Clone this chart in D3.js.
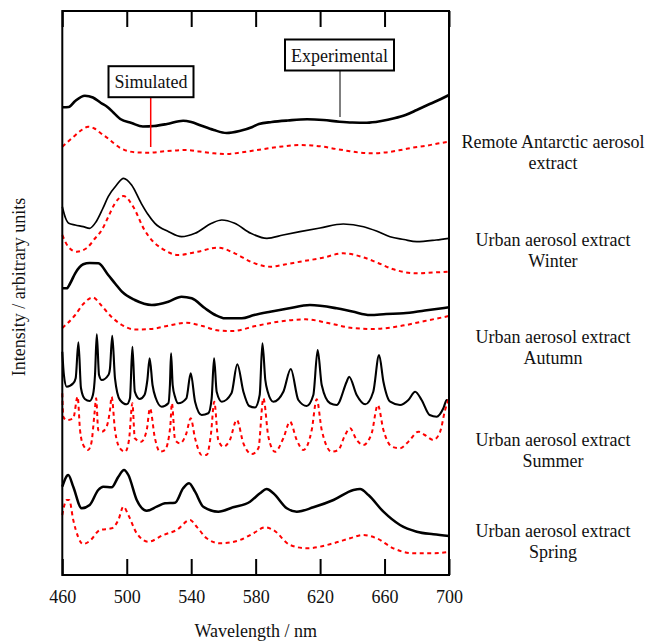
<!DOCTYPE html>
<html>
<head>
<meta charset="utf-8">
<script src="https://cdn.jsdelivr.net/npm/d3@7"></script>
<style>
  body { margin: 0; background: #fff; }
  text { font-family: "Liberation Serif", "Times New Roman", serif; fill: #111; }
</style>
</head>
<body>
<div id="chart"></div>
<script>
// Spectra: [wavelength nm, intensity (arbitrary units, offset per sample)]
const xTicks = [460, 500, 540, 580, 620, 660, 700];

const antarcticExp = [[460,467.7],[464,468],[468,474],[474,479.3],[479,477.5],[484,472],[488,468],[492,462],[496,456],[503,452],[510,448.5],[517,449],[525,451],[535,454.3],[540,453],[546,449.5],[554,445],[562,442],[570,444],[578,448],[582,451],[590,453],[600,454.5],[612,455.7],[622,455],[632,453.3],[640,452.5],[649,452.3],[658,454],[666,456.7],[673,460],[680,465],[688,471],[695,476],[700,480]];
const antarcticSim = [[460,428.3],[467,438.3],[472,445],[476,448.3],[480,446.5],[483.5,442.3],[488,437],[492,431.7],[496,427],[500,424.3],[507,422.5],[514.5,422.3],[522,423.5],[529,424.3],[537,425],[545,423.5],[554,421.7],[562,421],[571,422.5],[581,425],[594,428],[607.5,430],[615,429.5],[622,428.3],[630,426],[636.5,424.3],[644,422.5],[651,421.7],[660,422.5],[670,425],[678,427.5],[686,429.3],[693,431.5],[700,433.3]];

const winterExp = [[460,368.3],[462,357],[464,351.7],[468,350],[473,348.3],[477,346.7],[481,353.3],[485,366],[488.5,378.3],[493.7,390],[498,396.7],[503,390],[509,371.7],[513,361],[517.5,351.7],[526,343.3],[534,338.3],[542.4,341.7],[552.7,351.7],[559,355],[567,351.7],[577,341.7],[587,336.7],[597,340],[607.5,343.3],[620,347],[634.4,351],[647,348.3],[655,344],[663.4,338.3],[672,335.5],[680,333.3],[692,335],[700,336.7]];
const winterSim = [[460,340],[463.7,328.3],[469,323.3],[475,326.7],[480,336],[484.5,345],[488.5,358],[492.7,371.7],[498,379],[504,368.3],[511,345],[516,334],[521.7,326.7],[532,320],[544,323.3],[556.8,327.3],[567,321.7],[578,312.5],[589,308.3],[598,310.5],[607.5,313.3],[621,317],[634.4,321.7],[646.8,317.7],[656,312],[665.5,305.7],[680,301.7],[690,302.5],[700,303.3]];

const autumnExp = [[460,286.7],[462.7,286.7],[465,292],[468,301.7],[473,310.7],[477,312],[482.4,311.7],[488.5,300],[493,291],[497,283.3],[505,275],[515.5,270],[525.8,273.3],[534,278.3],[540.3,276.7],[548.6,266.7],[555,260],[561,256.7],[571.4,256.7],[579,260],[589,263.3],[600,266.5],[613.7,270],[630.3,266.7],[640,263.5],[651,260],[661,261],[671.7,261.7],[685,264.5],[700,267.7]];
const autumnSim = [[460,247],[468,260],[473,271],[479,277.5],[484,270],[490,259],[497,250],[505,245.5],[515,246],[525,249],[537,252.3],[547,249],[557,244.5],[566,244],[580,249],[595,253.5],[611,255.7],[625,252],[640,247],[653,246],[670,249],[685,254],[700,259]];

const summerExp = [[460,223.3],[461,200],[462.7,188.3],[466.8,191.7],[468.3,196.7],[470,232.7],[471.6,186.7],[474,176],[477,174],[479,180],[480.3,200],[481.4,240.7],[482.8,200],[484.5,195],[488.6,200],[489.6,206.7],[491,239.3],[492.7,196.7],[495.8,175],[500,170.7],[502,176.7],[503.5,228.3],[505,183.3],[508,176],[511,180],[512.8,195],[514.2,216.7],[516,190],[518,177],[521.7,168.3],[525.8,171.7],[526.8,190],[527.5,221.7],[528.5,190],[530,178],[532,171.7],[537,176.7],[539.7,201.7],[542.4,173.3],[546.5,160],[550.6,161.7],[552.7,176.7],[554.2,216.7],[555.8,183.3],[559,173.3],[565,181.7],[568.6,210.7],[572.4,183.3],[576,169],[579.6,167.5],[582.5,180],[584.2,231.7],[586,195],[587.5,183.3],[591,173.3],[597.2,183.3],[601.8,206],[606.5,175],[611.7,169],[615.8,180],[618.5,225],[621,190],[626.2,171.7],[630.3,170],[636.5,193.3],[638,198.3],[642.7,180],[648,170.7],[653,183.3],[656.6,220],[659.3,193.3],[663.5,173.3],[669.6,170],[674.8,175],[679,183.3],[683,175],[688,160],[692.4,158.3],[696.5,166.7],[698.6,175],[700,173.3]];
const summerSim = [[460,181.7],[460.6,158.3],[462.7,155],[466.8,156.7],[469.5,178.3],[471,145],[473,130],[476,125],[478,131.7],[480,161.7],[481,176.7],[482.3,145],[484.5,143.3],[487.5,148.3],[489.6,165],[490.6,178.3],[492.7,145],[495.8,126.7],[499,123.3],[501.4,135],[503.5,171.7],[505,136.7],[509,133.3],[512.4,145],[514.4,166.7],[517.5,136.7],[520.6,123.3],[523.7,125],[527,148.3],[528,171.7],[530,135],[533,131.7],[537,141.7],[539.7,156.7],[542.4,136.7],[546.5,120],[549.6,120],[552.3,141.7],[554.3,173.3],[556.8,135],[560,128.3],[564,135],[568.3,155],[572.4,131.7],[577.6,121],[581.7,126.7],[584.8,176.7],[587.9,138.3],[592,123.3],[597.2,136.7],[601.3,153.3],[605.5,135],[609.6,125],[614.8,145],[617.9,175.7],[621,145],[627.2,123.3],[631.3,125],[635.5,140],[638.6,146.7],[642.7,135],[646.8,130],[652,141.7],[655.8,170],[659.3,145],[664.5,128.3],[669.6,126.7],[674.8,133.3],[681,143.3],[685,140],[690.3,135],[694.5,143.3],[697.6,165],[700,176.7]];

const springExp = [[460,88.3],[463.7,100],[466.8,88.3],[472,66.7],[477,70],[482.3,85],[485.4,88.3],[490.6,87.7],[494.8,98.3],[498.3,105],[501,100],[506.2,75],[512.4,64.3],[518.6,68.3],[523.7,71.7],[530,72.3],[535,86.7],[538.7,91.7],[542.4,83.3],[547.5,68.3],[556.8,63.3],[566,67.7],[576.5,73.3],[582.7,81.7],[586.9,86],[591,81.7],[599.3,66.7],[605.5,63.3],[615.8,67.7],[628.3,75],[640.7,85],[644.8,86],[650,80],[659.3,63.3],[669.6,50],[680,43.3],[690.3,40.7],[700,39]];
const springSim = [[460,60],[462.7,75],[464.3,75],[466.8,55],[473,31],[477.2,34.3],[483.4,45],[490.6,46.7],[494.8,55],[497.9,68.3],[501,60],[506.2,41.7],[513.4,33.3],[522.7,40],[531,45],[539.3,55],[543.4,48.3],[549.6,36.7],[557.9,31.7],[570.3,35],[578.6,41.7],[585.8,47.7],[591,45],[601.3,30],[611.7,26.7],[628.3,31.7],[638.6,36.7],[646.8,40],[655.1,36.7],[665.5,26.7],[677.9,21.7],[690.3,21.7],[700,23]];

const sampleLabels = [
  ['Remote Antarctic aerosol', 'extract'],
  ['Urban aerosol extract', 'Winter'],
  ['Urban aerosol extract', 'Autumn'],
  ['Urban aerosol extract', 'Summer'],
  ['Urban aerosol extract', 'Spring']
];

const W = 649, H = 641;
const margin = { top: 11, right: 200, bottom: 66, left: 62.3 };
const width = 449 - margin.left;
const height = 575 - margin.top;

const svg = d3.select('#chart').append('svg')
    .attr('width', W)
    .attr('height', H);

const g = svg.append('g')
    .attr('transform', `translate(${margin.left},${margin.top})`);

const x = d3.scaleLinear().domain([460, 700]).range([0, width]);
const y = d3.scaleLinear().domain([0, 564]).range([height, 0]);

const line = d3.line()
    .x(d => x(d[0]))
    .y(d => y(d[1]))
    .curve(d3.curveMonotoneX);

// experimental = black solid, simulated = red dotted
const series = [
  { data: antarcticExp, exp: true, w: 2.6 },
  { data: antarcticSim, exp: false },
  { data: winterExp, exp: true, w: 1.7 },
  { data: winterSim, exp: false },
  { data: autumnExp, exp: true, w: 2.6 },
  { data: autumnSim, exp: false },
  { data: summerExp, exp: true, w: 2.1 },
  { data: summerSim, exp: false },
  { data: springExp, exp: true, w: 2.5 },
  { data: springSim, exp: false }
];

series.forEach(s => {
  g.append('path')
    .datum(s.data)
    .attr('fill', 'none')
    .attr('stroke', s.exp ? '#000' : '#f00')
    .attr('stroke-width', s.exp ? s.w : 2)
    .attr('stroke-dasharray', s.exp ? null : '4,3.5')
    .attr('stroke-linejoin', 'round')
    .attr('d', line);
});

// axes, ticks pointing inward
const bottomAxis = g.append('g')
    .attr('transform', `translate(0,${height})`)
    .call(d3.axisBottom(x).tickValues(xTicks).tickSize(-16).tickPadding(15).tickFormat(d3.format('d')));
bottomAxis.select('.domain').remove();
bottomAxis.selectAll('line').attr('stroke', '#000').attr('stroke-width', 2);
bottomAxis.selectAll('text').style('font-size', '18px').attr('fill', '#111');

const topAxis = g.append('g')
    .call(d3.axisTop(x).tickValues(xTicks).tickSize(-16).tickFormat(''));
topAxis.select('.domain').remove();
topAxis.selectAll('line').attr('stroke', '#000').attr('stroke-width', 2);

g.append('rect')
    .attr('width', width)
    .attr('height', height)
    .attr('fill', 'none')
    .attr('stroke', '#000')
    .attr('stroke-width', 2);

svg.append('text')
    .attr('x', margin.left + width / 2)
    .attr('y', 637)
    .attr('text-anchor', 'middle')
    .style('font-size', '18px')
    .text('Wavelength / nm');

svg.append('text')
    .attr('transform', 'translate(25,287) rotate(-90)')
    .attr('text-anchor', 'middle')
    .style('font-size', '18px')
    .text('Intensity / arbitrary units');

// sample names on the right
const labelY = [148, 246, 343, 446, 537];
sampleLabels.forEach((lines, i) => {
  const t = svg.append('text')
      .attr('x', 553)
      .attr('y', labelY[i])
      .attr('text-anchor', 'middle')
      .style('font-size', '18px');
  lines.forEach((s, j) => {
    t.append('tspan').attr('x', 553).attr('dy', j ? 20.5 : 0).text(s);
  });
});

// callouts
function callout(label, cx, cy, bw, bh, lx, y1, y2, color) {
  svg.append('line')
    .attr('x1', lx).attr('x2', lx)
    .attr('y1', y1).attr('y2', y2)
    .attr('stroke', color)
    .attr('stroke-width', color === '#000' ? 1 : 1.5);
  svg.append('rect')
    .attr('x', cx - bw / 2).attr('y', cy - bh / 2)
    .attr('width', bw).attr('height', bh)
    .attr('fill', '#fff')
    .attr('stroke', '#000')
    .attr('stroke-width', 2);
  svg.append('text')
    .attr('x', cx).attr('y', cy + 6.5)
    .attr('text-anchor', 'middle')
    .style('font-size', '18px')
    .text(label);
}
callout('Simulated', 151, 81.7, 85, 31, 150.7, 97, 147, '#f00');
callout('Experimental', 339.5, 55, 109, 31, 340, 70.5, 117, '#000');
</script>
</body>
</html>
